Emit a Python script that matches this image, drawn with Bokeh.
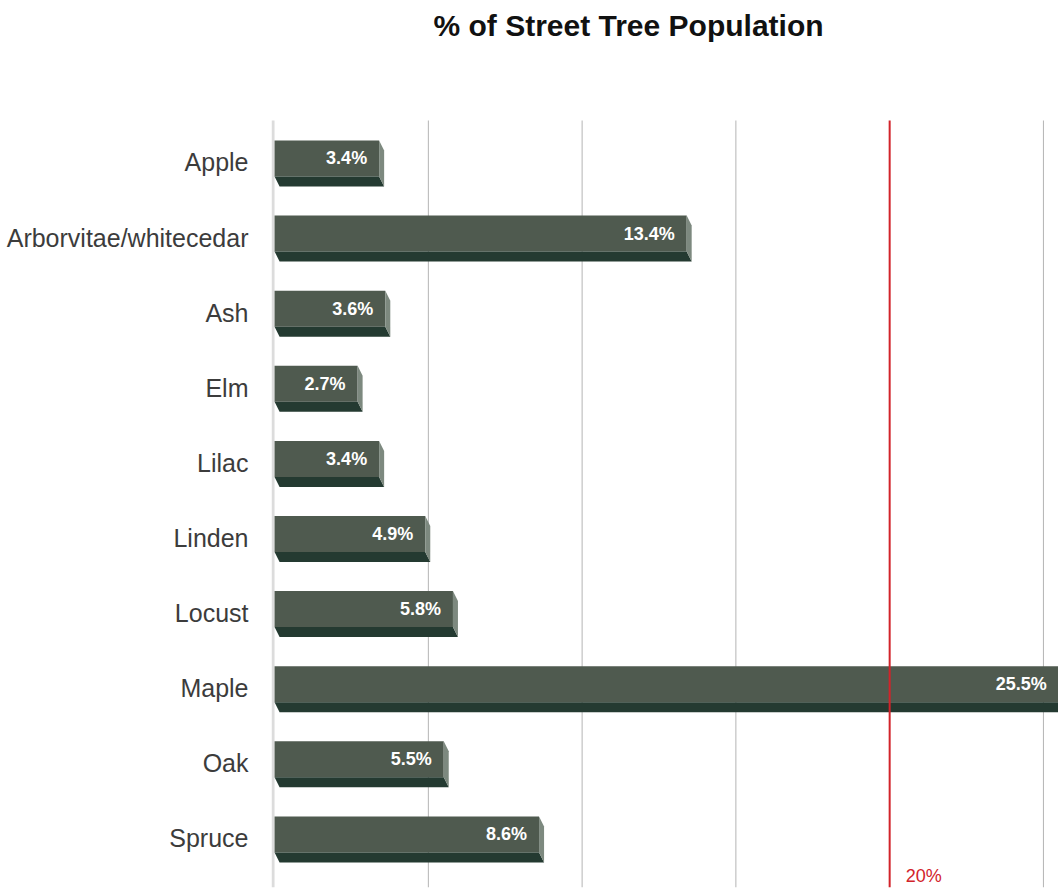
from bokeh.plotting import figure
from bokeh.models import Range1d, FixedTicker, Label, ColumnDataSource, LabelSet
from bokeh.core.properties import value
from bokeh.embed import file_html
from bokeh.resources import INLINE

categories = ["Apple", "Arborvitae/whitecedar", "Ash", "Elm", "Lilac",
              "Linden", "Locust", "Maple", "Oak", "Spruce"]
values = [3.4, 13.4, 3.6, 2.7, 3.4, 4.9, 5.8, 25.5, 5.5, 8.6]
grid_ticks = [5, 10, 15, 25]
threshold = 20
title_text = "% of Street Tree Population"

FONT = "Liberation Sans"
W, H = 1058, 891
LEFT, BOTTOM = 271, 4
PLOT_TOP_PX = 120
X0, X1 = -0.1, 25.49
Y_TOP, Y_BOT = -0.559, 9.654

frame_w = W - LEFT
px_x = frame_w / (X1 - X0)
px_y = (H - PLOT_TOP_PX - BOTTOM) / (Y_BOT - Y_TOP)
Y_FIG_TOP = Y_TOP - PLOT_TOP_PX / px_y

p = figure(width=W, height=H, output_backend="svg", toolbar_location=None,
           x_range=Range1d(X0, X1), y_range=Range1d(start=Y_BOT, end=Y_FIG_TOP),
           min_border_left=LEFT, min_border_top=0, min_border_right=0,
           min_border_bottom=BOTTOM)

p.add_layout(Label(x=X0, y=Y_FIG_TOP, text=title_text, x_offset=162, y_offset=-8,
                   text_baseline="top", text_align="left", text_font=FONT,
                   text_font_size="30px", text_font_style="bold",
                   text_color="#111111"))

p.outline_line_color = None
p.xaxis.visible = False
p.xgrid.grid_line_color = None
p.ygrid.grid_line_color = None

yax = p.yaxis[0]
yax.ticker = FixedTicker(ticks=list(range(len(categories))))
yax.major_label_overrides = {i: c for i, c in enumerate(categories)}
yax.axis_line_color = None
yax.major_tick_line_color = None
yax.minor_tick_line_color = None
yax.major_tick_out = 0
yax.major_tick_in = 0
yax.major_label_standoff = 23
yax.major_label_text_font = FONT
yax.major_label_text_font_size = "25px"
yax.major_label_text_color = "#3c3c3c"

# gridlines / axis line / threshold limited to the plotting band
p.segment(x0=grid_ticks, x1=grid_ticks, y0=Y_TOP, y1=Y_BOT,
          line_color="#b4b4b4", line_width=1)
p.segment(x0=[-0.05], x1=[-0.05], y0=Y_TOP, y1=Y_BOT,
          line_color="#dcdcdc", line_width=3)

u = 1.0 / px_y
dx = 5.0 / px_x
pos = list(range(len(categories)))
face_top = [c - 22 * u for c in pos]
face_bot = [c + 14 * u for c in pos]
face_mid = [(a + b) / 2 for a, b in zip(face_top, face_bot)]

p.quad(left=0, right=values, top=face_top, bottom=face_bot,
       fill_color="#4f5a4f", line_color=None)

bx, by, rx, ry = [], [], [], []
for v, t, b in zip(values, face_top, face_bot):
    bx.append([0, v, v + dx, dx])
    by.append([b, b, b + 10 * u, b + 10 * u])
    rx.append([v, v + dx, v + dx, v])
    ry.append([t, t + 10 * u, b + 10 * u, b])
p.patches(xs=bx, ys=by, fill_color="#243a31", line_color=None)
p.patches(xs=rx, ys=ry, fill_color="#7d897f", line_color=None)

p.segment(x0=[threshold], x1=[threshold], y0=Y_TOP, y1=Y_BOT,
          line_color="#d2232a", line_width=2)

src = ColumnDataSource(dict(x=values, y=face_mid, t=[f"{v}%" for v in values]))
p.add_layout(LabelSet(x="x", y="y", text="t", source=src, x_offset=-12,
                      text_align="right", text_baseline="middle",
                      text_font=value(FONT), text_font_size=value("18px"),
                      text_font_style=value("bold"), text_color=value("white")))

p.add_layout(Label(x=threshold, y=Y_BOT, text=f"{threshold}%", x_offset=16, y_offset=2,
                   text_baseline="bottom", text_align="left", text_font=FONT,
                   text_font_size="18px", text_color="#d2232a"))

open("out.html", "w").write(file_html(p, INLINE))
